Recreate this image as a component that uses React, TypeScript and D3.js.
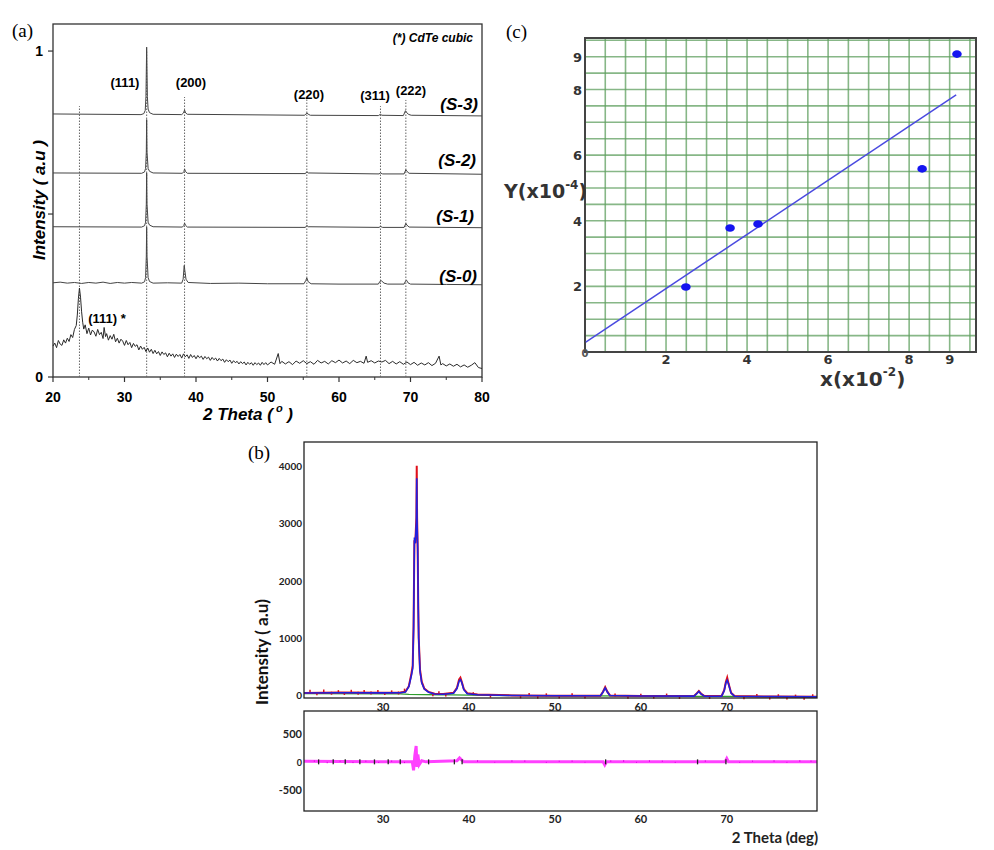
import * as d3 from 'd3';

// ---------- (a) XRD patterns, normalised intensity ----------
const thetaTicksA = [20, 30, 40, 50, 60, 70, 80];
const thetaMinorA = [25, 35, 45, 55, 65, 75];
const intTicksA = [0, 0.5, 1];
const intTickLabelsA = ['0', '', '1'];

const sample3 = [
  [20, 0.807], [32.3, 0.805], [32.7, 0.808], [32.9, 0.818], [33.0, 0.86], [33.1, 1.012], [33.2, 0.86],
  [33.3, 0.822], [33.5, 0.811], [34.0, 0.806], [38.0, 0.805], [38.25, 0.81], [38.4, 0.819], [38.55, 0.81],
  [38.8, 0.806], [55.2, 0.803], [55.4, 0.808], [55.55, 0.81], [55.7, 0.806], [56.0, 0.803], [65.5, 0.802],
  [65.8, 0.806], [66.0, 0.803], [69.0, 0.802], [69.3, 0.817], [69.45, 0.812], [69.7, 0.806], [70.1, 0.803],
  [80, 0.801],
];
const sample2 = [
  [20, 0.626], [32.4, 0.625], [32.8, 0.629], [32.95, 0.64], [33.05, 0.69], [33.1, 0.79], [33.15, 0.69],
  [33.3, 0.64], [33.5, 0.631], [34, 0.626], [38.1, 0.625], [38.3, 0.63], [38.4, 0.638], [38.55, 0.63],
  [38.8, 0.625], [55.3, 0.624], [55.5, 0.63], [55.7, 0.626], [65.6, 0.623], [65.8, 0.626], [66.1, 0.623],
  [69.1, 0.623], [69.35, 0.636], [69.5, 0.631], [69.8, 0.625], [80, 0.622],
];
const sample1 = [
  [20, 0.461], [32.4, 0.46], [32.8, 0.464], [32.95, 0.475], [33.05, 0.53], [33.1, 0.626], [33.15, 0.53],
  [33.3, 0.475], [33.5, 0.466], [34, 0.461], [38.1, 0.46], [38.3, 0.465], [38.4, 0.472], [38.55, 0.465],
  [38.8, 0.46], [55.3, 0.459], [55.5, 0.465], [55.7, 0.461], [65.6, 0.459], [65.8, 0.462], [66.1, 0.459],
  [69.1, 0.459], [69.35, 0.471], [69.5, 0.466], [69.8, 0.46], [80, 0.458],
];
const sample0 = [
  [20, 0.289], [21, 0.291], [22, 0.288], [23, 0.29], [24, 0.287], [25, 0.29], [26, 0.288], [27, 0.291],
  [28, 0.287], [29, 0.29], [30, 0.288], [31, 0.29], [32.4, 0.288], [32.8, 0.292],
  [32.95, 0.305], [33.05, 0.37], [33.1, 0.46], [33.15, 0.37], [33.3, 0.305], [33.5, 0.293], [34, 0.288],
  [36, 0.289], [38.0, 0.288], [38.2, 0.3], [38.35, 0.342], [38.45, 0.325], [38.6, 0.3], [38.9, 0.29],
  [42, 0.287], [46, 0.288], [50, 0.286], [55.1, 0.286], [55.35, 0.296], [55.5, 0.304], [55.7, 0.292],
  [56.1, 0.286], [60, 0.285], [65.5, 0.285], [65.75, 0.294], [65.95, 0.295], [66.3, 0.288], [66.8, 0.285],
  [69.1, 0.285], [69.3, 0.294], [69.45, 0.297], [69.65, 0.289], [70, 0.285], [75, 0.284], [80, 0.283],
];
// amorphous film with the CdTe (111) reflection
const amorphous = [
  [20.0, 0.095], [20.25, 0.104], [20.5, 0.09], [20.75, 0.112], [21.0, 0.101], [21.25, 0.097], [21.5, 0.114],
  [21.75, 0.104], [22.0, 0.119], [22.25, 0.109], [22.5, 0.13], [22.75, 0.121], [23.0, 0.146], [23.25, 0.158],
  [23.4, 0.19], [23.55, 0.24], [23.7, 0.273], [23.85, 0.245], [24.0, 0.2], [24.15, 0.168], [24.3, 0.147],
  [24.5, 0.16], [24.75, 0.133], [25.0, 0.15], [25.25, 0.129], [25.5, 0.144], [25.75, 0.138], [26.0, 0.125],
  [26.25, 0.146], [26.5, 0.13], [26.75, 0.137], [27.0, 0.118], [27.15, 0.152], [27.35, 0.124], [27.5, 0.133],
  [27.75, 0.113], [28.0, 0.127], [28.25, 0.116], [28.5, 0.131], [28.75, 0.108], [29.0, 0.119], [29.25, 0.104],
  [29.5, 0.116], [29.75, 0.11], [30.0, 0.097], [30.25, 0.112], [30.5, 0.099], [30.75, 0.106], [31.0, 0.09],
  [31.25, 0.103], [31.5, 0.094], [31.75, 0.099], [32.0, 0.083], [32.25, 0.095], [32.5, 0.085], [32.75, 0.091],
  [33.0, 0.078], [33.25, 0.089], [33.5, 0.076], [33.75, 0.085], [34.0, 0.072], [34.25, 0.082], [34.5, 0.071],
  [34.75, 0.078], [35.0, 0.066], [35.25, 0.077], [35.5, 0.069], [35.75, 0.074], [36.0, 0.062], [36.25, 0.073],
  [36.5, 0.064], [36.75, 0.071], [37.0, 0.06], [37.25, 0.07], [37.5, 0.063], [37.75, 0.069], [38.0, 0.058],
  [38.25, 0.071], [38.5, 0.062], [38.75, 0.068], [39.0, 0.057], [39.25, 0.069], [39.5, 0.06], [39.75, 0.066],
  [40.0, 0.056], [40.25, 0.066], [40.5, 0.059], [40.75, 0.064], [41.0, 0.054], [41.25, 0.063], [41.5, 0.056],
  [41.75, 0.061], [42.0, 0.051], [42.25, 0.06], [42.5, 0.053], [42.75, 0.058], [43.0, 0.049], [43.25, 0.057],
  [43.5, 0.05], [43.75, 0.055], [44.0, 0.045], [44.25, 0.053], [44.5, 0.047], [44.75, 0.052], [45.0, 0.042],
  [45.25, 0.05], [45.5, 0.044], [45.75, 0.048], [46.0, 0.04], [46.25, 0.047], [46.5, 0.041], [46.75, 0.046],
  [47.0, 0.037], [47.25, 0.045], [47.5, 0.039], [47.75, 0.044], [48.0, 0.036], [48.25, 0.044], [48.5, 0.038],
  [48.75, 0.043], [49.0, 0.036], [49.25, 0.045], [49.5, 0.038], [49.75, 0.044], [50.0, 0.037], [50.5, 0.046],
  [51.0, 0.039], [51.5, 0.072], [51.75, 0.041], [52.0, 0.048], [52.5, 0.04], [53.0, 0.047], [53.5, 0.038],
  [54.0, 0.049], [54.5, 0.042], [55.0, 0.05], [55.5, 0.041], [56.0, 0.047], [56.5, 0.039], [57.0, 0.051],
  [57.5, 0.043], [58.0, 0.048], [58.5, 0.04], [59.0, 0.05], [59.5, 0.044], [60.0, 0.052], [60.5, 0.043],
  [61.0, 0.049], [61.5, 0.041], [62.0, 0.051], [62.5, 0.044], [63.0, 0.048], [63.5, 0.042], [63.8, 0.064],
  [64.0, 0.045], [64.5, 0.05], [65.0, 0.043], [65.5, 0.049], [66.0, 0.046], [66.5, 0.051], [67.0, 0.041],
  [67.5, 0.048], [68.0, 0.04], [68.5, 0.047], [69.0, 0.039], [69.5, 0.046], [70.0, 0.038], [70.5, 0.045],
  [71.0, 0.036], [71.5, 0.043], [72.0, 0.037], [72.5, 0.044], [73.0, 0.035], [73.5, 0.042], [74.0, 0.064],
  [74.25, 0.037], [74.5, 0.041], [75.0, 0.034], [75.5, 0.04], [76.0, 0.033], [76.5, 0.039], [77.0, 0.031],
  [77.5, 0.037], [78.0, 0.03], [78.5, 0.036], [79.0, 0.044], [79.5, 0.029], [80.0, 0.026],
];
// dotted reference lines: [2theta, top]
const refLines = [[23.7, 0.831], [33.1, 1.0], [38.4, 0.859], [55.5, 0.853], [65.8, 0.831], [69.35, 0.85]];

// ---------- (b) Rietveld refinement ----------
const thetaTicksB = [30, 40, 50, 60, 70];
const intTicksB = [0, 1000, 2000, 3000, 4000];
const diffTicksB = [-500, 0, 500];

const observed = [
  [20.8, 40], [25, 50], [30, 48], [32, 50], [32.6, 65], [33.0, 160], [33.3, 380], [33.45, 520], [33.55, 1200],
  [33.65, 2700], [33.75, 2650], [33.88, 3100], [33.92, 4000], [33.96, 3100], [34.03, 2550], [34.1, 1500],
  [34.15, 1000], [34.3, 450], [34.5, 240], [34.8, 120], [35.3, 60], [36, 30], [37, 25], [38.2, 45], [38.6, 130],
  [38.85, 280], [39.0, 310], [39.15, 240], [39.4, 110], [39.8, 40], [41, 15], [45, 0], [50, -5], [55.3, -5],
  [55.6, 65], [55.85, 145], [56.1, 65], [56.4, 0], [60, -10], [66.2, -10], [66.5, 35], [66.75, 75], [67.0, 30],
  [67.4, -10], [69.4, -10], [69.7, 90], [69.9, 240], [70.05, 310], [70.2, 210], [70.5, 45], [70.9, -10],
  [75, -20], [80.5, -25],
];
const calculated = [
  [20.8, 42], [25, 46], [30, 44], [32.0, 46], [32.6, 58], [33.0, 150], [33.3, 350], [33.45, 470], [33.55, 1150],
  [33.65, 2750], [33.75, 2650], [33.88, 3000], [33.92, 3780], [33.96, 3000], [34.03, 2580], [34.1, 1500],
  [34.15, 990], [34.3, 420], [34.5, 220], [34.8, 110], [35.3, 55], [36, 25], [37, 20], [38.2, 38], [38.6, 120],
  [38.85, 250], [39.0, 275], [39.15, 230], [39.4, 100], [39.8, 30], [41, 12], [45, -2], [50, -6], [55.3, -6],
  [55.6, 60], [55.85, 130], [56.1, 60], [56.4, -2], [60, -10], [66.2, -12], [66.5, 30], [66.75, 70], [67.0, 28],
  [67.4, -12], [69.4, -14], [69.7, 80], [69.9, 220], [70.05, 265], [70.2, 200], [70.5, 40], [70.9, -14],
  [75, -20], [80.5, -26],
];
const background = [
  [20.8, 30], [32, 26], [33, 18], [36.5, 12], [38, 10], [40, 4], [50, -7], [55, -9], [60, -12], [66, -16],
  [70, -18], [80.5, -28],
];
const obsScatter = [
  [21.5, 72], [22.3, 28], [23.1, 76], [24.0, 38], [24.8, 66], [25.5, 33], [26.3, 72], [27.1, 36], [27.8, 70],
  [28.6, 40], [29.4, 68], [30.2, 34], [31.0, 62], [31.8, 42], [32.5, 92], [35.8, 12], [36.5, 45], [37.3, 8],
  [40.5, 30], [42.5, -12], [46.0, -25], [47.0, 14], [48.0, -30], [49.0, 10], [50.5, -26], [52.0, 12],
  [53.5, -28], [57.0, 8], [58.5, -32], [60.0, 4], [61.5, -30], [63.0, 6], [64.5, -36], [68.0, -36], [72.0, -42],
  [73.5, -2], [75.0, -46], [76.0, -6], [77.0, -46], [78.0, -12], [79.0, -50], [80.0, -6],
];
const difference = [
  [20.8, 10], [25, 5], [30, 0], [33.4, 0], [33.55, -150], [33.7, 120], [33.85, 280], [33.95, -90], [34.05, 130],
  [34.2, -50], [34.5, 20], [35, 0], [38.6, 20], [38.9, 70], [39.1, 40], [39.4, 0], [55.6, 0], [55.8, -55],
  [56.0, 0], [69.8, 0], [70.0, 60], [70.2, 0], [80.5, 0],
];
const diffScatter = [
  [22.0, 25], [23.5, -25], [25.0, 20], [26.5, -22], [28.0, 22], [29.5, -20], [31.0, 24], [32.5, -22],
  [41.0, 30], [43.0, -15], [45.0, 28], [46.5, 25], [49.0, -18], [50.5, 20], [52.0, 24], [53.5, -15], [56.5, 26],
  [58.0, 30], [59.5, -18], [61.0, 28], [62.5, 22], [64.0, -20], [67.5, 26], [71.5, -16], [73.0, 22], [75.5, 28],
  [77.0, -18], [78.5, 30], [79.8, 24],
];
const diffDark = [22.5, 24.2, 25.6, 27.3, 29.0, 30.6, 32.0, 35.3, 38.3, 39.2, 55.9, 66.6, 69.9];

// ---------- (c) linear fit ----------
const xTicksC = [2, 4, 6, 8, 9];
const yTicksC = [2, 4, 6, 8, 9];
const pointsC = [[2.49, 1.98], [3.58, 3.78], [4.27, 3.9], [8.32, 5.58], [9.18, 9.08]];
const fitC = [[0.02, 0.3], [9.16, 7.84]];

export default function App() {
  // scales
  const xA = d3.scaleLinear().domain([20, 80]).range([53, 482]);
  const yA = d3.scaleLinear().domain([0, 1.083]).range([377, 24]);
  const xB = d3.scaleLinear().domain([20.8, 80.5]).range([304, 817]);
  const yB = d3.scaleLinear().domain([-45, 4412]).range([698, 442]);
  const yD = d3.scaleLinear().domain([-870, 900]).range([811, 711]);
  const xC = d3.scaleLinear().domain([0, 9.65]).range([585, 976]);
  const yC = d3.scaleLinear().domain([0, 9.57]).range([352, 38]);

  const lineA = d3.line<number[]>().x(d => xA(d[0])).y(d => yA(d[1]));
  const lineB = d3.line<number[]>().x(d => xB(d[0])).y(d => yB(d[1]));
  const lineD = d3.line<number[]>().x(d => xB(d[0])).y(d => yD(d[1]));
  const lineC = d3.line<number[]>().x(d => xC(d[0])).y(d => yC(d[1]));

  const gridC = d3.range(0.5, 9.6, 0.5);

  const fA = 'Liberation Sans, Arial, sans-serif';
  const fB = 'Lato, Open Sans, sans-serif';
  const fC = 'DejaVu Sans, Verdana, sans-serif';
  const fSerif = 'Liberation Serif, Times New Roman, serif';
  const traceColor = '#444';

  return (
    <svg width={994} height={850} style={{ position: 'absolute', left: 0, top: 0, background: '#fff' }}>
      {/* ================= (a) ================= */}
      <text x={12} y={37} fontFamily={fSerif} fontSize={19}>(a)</text>
      <rect x={53} y={24} width={429} height={353} fill="none" stroke="#333" strokeWidth={1.3} />
      {refLines.map((d, i) => (
        <line key={i} x1={xA(d[0])} x2={xA(d[0])} y1={yA(0)} y2={yA(d[1])}
          stroke="#666" strokeWidth={1} strokeDasharray="1.5,1.5" />
      ))}
      {[sample3, sample2, sample1, sample0].map((s, i) => (
        <path key={i} d={lineA(s) || ''} fill="none" stroke={traceColor} strokeWidth={1} />
      ))}
      <path d={lineA(amorphous) || ''} fill="none" stroke="#2a2a2a" strokeWidth={1} />
      {thetaTicksA.map(t => (
        <g key={t}>
          <line x1={xA(t)} x2={xA(t)} y1={377} y2={382} stroke="#333" strokeWidth={1.2} />
          <text x={xA(t)} y={402} textAnchor="middle" fontFamily={fA} fontWeight="bold" fontSize={14}>{t}</text>
        </g>
      ))}
      {thetaMinorA.map(t => (
        <line key={t} x1={xA(t)} x2={xA(t)} y1={377} y2={380} stroke="#333" strokeWidth={1} />
      ))}
      {intTicksA.map((v, i) => (
        <g key={v}>
          <line x1={48} x2={53} y1={yA(v)} y2={yA(v)} stroke="#333" strokeWidth={1.2} />
          <text x={43} y={yA(v) + 5} textAnchor="end" fontFamily={fA} fontWeight="bold" fontSize={14}>{intTickLabelsA[i]}</text>
        </g>
      ))}
      <text x={248} y={420} textAnchor="middle" fontFamily={fA} fontWeight="bold" fontStyle="italic" fontSize={17}>
        2 Theta (<tspan dy={-8} fontSize={11}> o</tspan><tspan dy={8}> )</tspan>
      </text>
      <text transform="translate(45,200) rotate(-90)" textAnchor="middle" fontFamily={fA} fontWeight="bold"
        fontStyle="italic" fontSize={17}>Intensity ( a.u )</text>
      <text x={473} y={42} textAnchor="end" fontFamily={fA} fontWeight="bold" fontStyle="italic" fontSize={12}>(*) CdTe cubic</text>
      <g fontFamily={fA} fontWeight="bold" fontSize={13} textAnchor="middle">
        <text x={125} y={87}>(111)</text>
        <text x={191} y={87}>(200)</text>
        <text x={309} y={99}>(220)</text>
        <text x={375} y={100}>(311)</text>
        <text x={411} y={95}>(222)</text>
        <text x={107} y={323}>(111) *</text>
      </g>
      <g fontFamily={fA} fontWeight="bold" fontStyle="italic" fontSize={17} textAnchor="end">
        <text x={478} y={110}>(S-3)</text>
        <text x={476} y={166}>(S-2)</text>
        <text x={474} y={222}>(S-1)</text>
        <text x={477} y={282}>(S-0)</text>
      </g>

      {/* ================= (b) ================= */}
      <text x={248} y={459} fontFamily={fSerif} fontSize={19}>(b)</text>
      <path d={lineB(background) || ''} fill="none" stroke="#2e9e2e" strokeWidth={1.3} />
      <path d={lineB(observed) || ''} fill="none" stroke="#e0101a" strokeWidth={2} />
      {obsScatter.map((d, i) => (
        <line key={i} x1={xB(d[0])} x2={xB(d[0])} y1={yB(d[1]) - 1.5} y2={yB(d[1]) + 1.5} stroke="#d8101a" strokeWidth={1.5} />
      ))}
      <path d={lineB(calculated) || ''} fill="none" stroke="#2020e0" strokeWidth={1.6} />
      <rect x={304} y={442} width={513} height={256} fill="none" stroke="#222" strokeWidth={1.3} />
      {intTicksB.map(v => (
        <text key={v} x={302} y={yB(v) + 4} textAnchor="end" fontFamily={fB} fontWeight="bold" fontSize={10} fill="#222">{v}</text>
      ))}
      {thetaTicksB.map(t => (
        <text key={t} x={xB(t)} y={711} textAnchor="middle" fontFamily={fB} fontWeight="bold" fontSize={11} fill="#222">{t}</text>
      ))}
      <text transform="translate(268,652) rotate(-90)" textAnchor="middle" fontFamily={fB} fontWeight="bold"
        fontSize={17} fill="#111">Intensity ( a.u)</text>

      {/* difference */}
      <path d={lineD(difference) || ''} fill="none" stroke="#ff00ff" strokeOpacity={0.75} strokeWidth={3} />
      {diffScatter.map((d, i) => (
        <line key={i} x1={xB(d[0])} x2={xB(d[0])} y1={yD(0)} y2={yD(d[1])} stroke="#e000e0" strokeWidth={1} />
      ))}
      {diffDark.map((t, i) => (
        <line key={i} x1={xB(t)} x2={xB(t)} y1={yD(0) - 2.5} y2={yD(0) + 2.5} stroke="#222" strokeWidth={1.3} />
      ))}
      <rect x={304} y={711} width={513} height={100} fill="none" stroke="#222" strokeWidth={1.3} />
      {diffTicksB.map(v => (
        <text key={v} x={302} y={yD(v) + 4} textAnchor="end" fontFamily={fB} fontWeight="bold" fontSize={v === 0 ? 9 : 11} fill="#222">{v}</text>
      ))}
      {thetaTicksB.map(t => (
        <text key={t} x={xB(t)} y={823} textAnchor="middle" fontFamily={fB} fontWeight="bold" fontSize={11} fill="#222">{t}</text>
      ))}
      <text x={818} y={843} textAnchor="end" fontFamily={fB} fontWeight="bold" fontSize={15} fill="#222">2 Theta (deg)</text>

      {/* ================= (c) ================= */}
      <text x={506} y={38} fontFamily={fSerif} fontSize={19}>(c)</text>
      {gridC.filter(v => v < 9.65).map(v => (
        <line key={'v' + v} x1={xC(v)} x2={xC(v)} y1={38} y2={352} stroke="#5f9f5f" strokeOpacity={0.75} strokeWidth={1.6} />
      ))}
      {gridC.filter(v => v < 9.57).map(v => (
        <line key={'h' + v} x1={585} x2={976} y1={yC(v)} y2={yC(v)} stroke="#5f9f5f" strokeOpacity={0.75} strokeWidth={1.6} />
      ))}
      <rect x={585} y={38} width={391} height={314} fill="none" stroke="#444" strokeWidth={2} />
      <path d={lineC(fitC) || ''} fill="none" stroke="#4a4ae0" strokeWidth={1.5} />
      {pointsC.map((d, i) => (
        <ellipse key={i} cx={xC(d[0])} cy={yC(d[1])} rx={4.8} ry={3.8} fill="#1515f0" />
      ))}
      {yTicksC.map(v => (
        <text key={v} x={582} y={yC(v) + 5} textAnchor="end" fontFamily={fC} fontWeight="bold" fontSize={13} fill="#333">{v}</text>
      ))}
      {xTicksC.map(v => (
        <text key={v} x={xC(v)} y={364} textAnchor="middle" fontFamily={fC} fontWeight="bold" fontSize={13} fill="#333">{v}</text>
      ))}
      <text x={585} y={357} textAnchor="middle" fontFamily={fC} fontWeight="bold" fontSize={10} fill="#555">0</text>
      <text x={504} y={198} fontFamily={fC} fontWeight="bold" fontSize={19} fill="#333">
        Y(x10<tspan dy={-9} fontSize={12}>-4</tspan><tspan dy={9}>)</tspan>
      </text>
      <text x={820} y={386} fontFamily={fC} fontWeight="bold" fontSize={20} fill="#333">
        x(x10<tspan dy={-10} fontSize={12}>-2</tspan><tspan dy={10}>)</tspan>
      </text>
    </svg>
  );
}
